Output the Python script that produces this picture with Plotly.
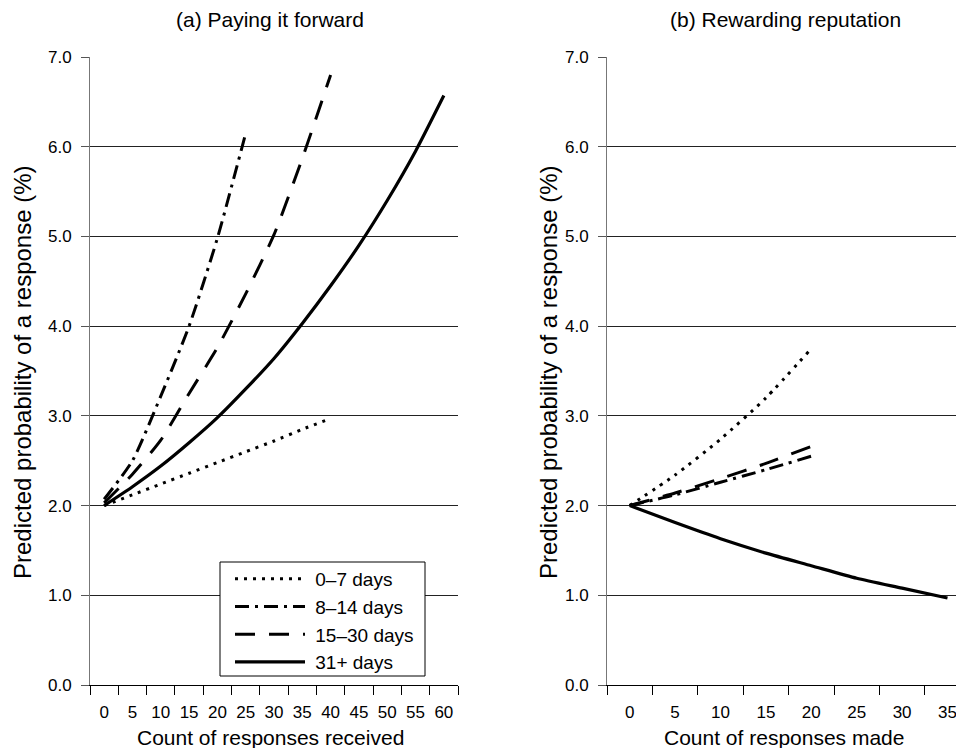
import plotly.graph_objects as go

# ---- data ----
a_categories = [0, 5, 10, 15, 20, 25, 30, 35, 40, 45, 50, 55, 60]
a_days_0_7 = [2.00, 2.12, 2.24, 2.36, 2.48, 2.60, 2.72, 2.85, 2.97]
a_days_8_14 = [2.07, 2.50, 3.22, 4.00, 4.98, 6.15]
a_days_15_30 = [2.03, 2.35, 2.73, 3.25, 3.76, 4.36, 5.02, 5.87, 6.80]
a_days_31 = [2.00, 2.21, 2.44, 2.70, 2.98, 3.30, 3.64, 4.03, 4.45, 4.90, 5.40, 5.95, 6.57]

b_categories = [0, 5, 10, 15, 20, 25, 30, 35]
b_days_0_7 = [2.00, 2.34, 2.74, 3.20, 3.75]
b_days_8_14 = [2.00, 2.12, 2.26, 2.40, 2.55]
b_days_15_30 = [2.00, 2.14, 2.30, 2.47, 2.66]
b_days_31 = [2.00, 1.81, 1.63, 1.47, 1.33, 1.19, 1.08, 0.97]

series_names = ["0\u20137 days", "8\u201314 days", "15\u201330 days", "31+ days"]
y_ticks = [0, 1, 2, 3, 4, 5, 6, 7]

# ---- style ----
FONT = "Liberation Sans, Arial, sans-serif"
OFF = 8                      # page body margin
W, H = 964 - OFF, 748 - OFF
styles = [
    dict(dash="3px,6px", width=3),
    dict(dash="14px,6px,3px,6px", width=3),
    dict(dash="20px,14px", width=3),
    dict(dash="solid", width=3.2),
]

fig = go.Figure()

a_series = [a_days_0_7, a_days_8_14, a_days_15_30, a_days_31]
b_series = [b_days_0_7, b_days_8_14, b_days_15_30, b_days_31]

for name, vals, st in zip(series_names, a_series, styles):
    fig.add_trace(go.Scatter(
        x=[str(c) for c in a_categories[:len(vals)]], y=vals, name="\u00a0" + name,
        mode="lines", line=dict(color="black", shape="spline", smoothing=0.6, **st),
        xaxis="x", yaxis="y", showlegend=True))
for name, vals, st in zip(series_names, b_series, styles):
    fig.add_trace(go.Scatter(
        x=[str(c) for c in b_categories[:len(vals)]], y=vals, name=name,
        mode="lines", line=dict(color="black", shape="spline", smoothing=0.6, **st),
        xaxis="x2", yaxis="y2", showlegend=False))

def fx(ref_px):
    return (ref_px - OFF) / W

PH = 628.0
def py(ref_py):
    return (685 - ref_py) / PH

def xaxis_style(cats, domain, rng, anchor):
    return dict(
        type="category", categoryorder="array", categoryarray=[str(c) for c in cats],
        domain=domain, range=rng, anchor=anchor,
        showgrid=False, zeroline=False, showline=True, linecolor="black", linewidth=1,
        ticks="outside", tickson="boundaries", ticklen=9, tickcolor="black", tickwidth=1,
        ticklabelstandoff=12,
        tickfont=dict(family=FONT, size=17, color="black"),
    )

def yaxis_style(anchor):
    return dict(
        range=[0, 7], tickvals=y_ticks, tickformat=".1f", anchor=anchor,
        showgrid=True, gridcolor="#222222", gridwidth=1, zeroline=False,
        showline=True, linecolor="#777777", linewidth=1,
        ticks="outside", ticklen=8, tickcolor="#555555", tickwidth=1,
        ticklabelstandoff=6,
        tickfont=dict(family=FONT, size=17, color="black"),
    )

x1_dom = [fx(90), fx(458)]
x2_dom = [fx(607), 1.0]
right_max = -0.5 + (964 - 607) / 45.4

fig.update_layout(
    width=W, height=H,
    margin=dict(l=0, r=0, t=57 - OFF, b=H - (685 - OFF)),
    paper_bgcolor="white", plot_bgcolor="white",
    font=dict(family=FONT, size=17, color="black"),
    xaxis=xaxis_style(a_categories, x1_dom, [-0.5, len(a_categories) - 0.5], "y"),
    yaxis=yaxis_style("x"),
    xaxis2=xaxis_style(b_categories, x2_dom, [-0.5, right_max], "y2"),
    yaxis2=yaxis_style("x2"),
    legend=dict(
        x=fx(230), y=py(560), xanchor="left", yanchor="top",
        bgcolor="rgba(0,0,0,0)", borderwidth=0,
        font=dict(family=FONT, size=19, color="black"),
        itemwidth=70, tracegroupgap=0,
    ),
    showlegend=True,
)

# legend frame
fig.add_shape(type="rect", xref="paper", yref="paper",
              x0=fx(220), x1=fx(425), y0=py(676), y1=py(562),
              fillcolor="white", line=dict(color="black", width=1), layer="above")

ann = [
    dict(text="(a) Paying it forward", x=fx(270), y=py(20)),
    dict(text="(b) Rewarding reputation", x=fx(785), y=py(20)),
    dict(text="Count of responses received", x=fx(270), y=py(737)),
    dict(text="Count of responses made", x=fx(784), y=py(737)),
]
for a in ann:
    fig.add_annotation(text=a["text"], x=a["x"], y=a["y"], xref="paper", yref="paper",
                       showarrow=False, xanchor="center", yanchor="middle",
                       font=dict(family=FONT, size=21, color="black"))
for xp in (22, 548):
    fig.add_annotation(text="Predicted probability of a response (%)", x=fx(xp), y=py(372),
                       xref="paper", yref="paper", showarrow=False, textangle=-90,
                       xanchor="center", yanchor="middle",
                       font=dict(family=FONT, size=24, color="black"))

fig.write_html("out.html")
